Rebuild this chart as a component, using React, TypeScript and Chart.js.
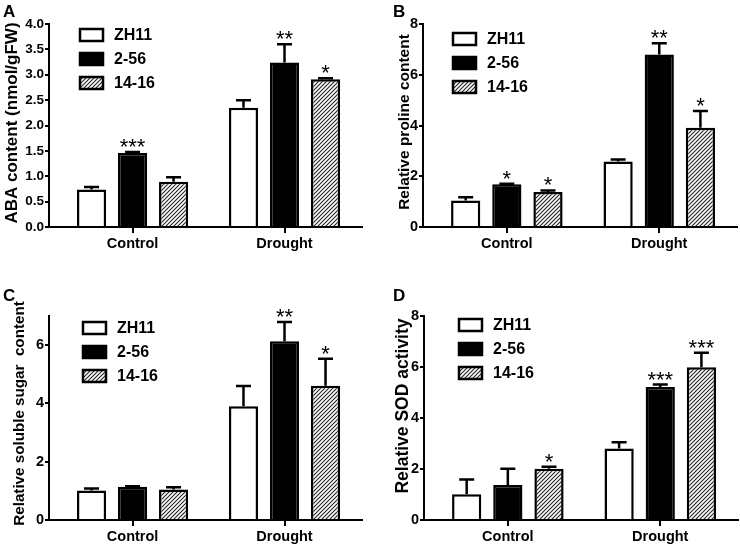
import React, { useEffect, useRef } from 'react';
import { Chart, registerables } from 'chart.js';

Chart.register(...registerables);

const FONT = '"Liberation Sans", Arial, Helvetica, sans-serif';

const categories = ['Control', 'Drought'];
const seriesNames = ['ZH11', '2-56', '14-16'];

// Panel A – ABA content (nmol/gFW)
const abaZH11 = [0.74, 2.35];
const aba256 = [1.46, 3.24];
const aba1416 = [0.89, 2.91];
const abaErrZH11 = [0.05, 0.15];
const abaErr256 = [0.02, 0.36];
const abaErr1416 = [0.09, 0.02];
const abaSigZH11 = ['', ''];
const abaSig256 = ['***', '**'];
const abaSig1416 = ['', '*'];

// Panel B – relative proline content
const proZH11 = [1.04, 2.58];
const pro256 = [1.68, 6.8];
const pro1416 = [1.38, 3.91];
const proErrZH11 = [0.13, 0.08];
const proErr256 = [0.02, 0.44];
const proErr1416 = [0.06, 0.66];
const proSigZH11 = ['', ''];
const proSig256 = ['*', '**'];
const proSig1416 = ['*', '*'];

// Panel C – relative soluble sugar content
const sugZH11 = [1.01, 3.9];
const sug256 = [1.14, 6.13];
const sug1416 = [1.05, 4.61];
const sugErrZH11 = [0.07, 0.7];
const sugErr256 = [0.02, 0.66];
const sugErr1416 = [0.07, 0.92];
const sugSigZH11 = ['', ''];
const sugSig256 = ['', '**'];
const sugSig1416 = ['', '*'];

// Panel D – relative SOD activity
const sodZH11 = [1.01, 2.8];
const sod256 = [1.37, 5.22];
const sod1416 = [2.01, 5.99];
const sodErrZH11 = [0.58, 0.25];
const sodErr256 = [0.64, 0.09];
const sodErr1416 = [0.08, 0.57];
const sodSigZH11 = ['', ''];
const sodSig256 = ['', '***'];
const sodSig1416 = ['*', '***'];

const W = 370;
const H = 273;

type PanelDef = {
  letter: string;
  title: string;
  values: number[][];
  errors: number[][];
  sigs: string[][];
  yMax: number;
  yStep: number;
  decimals: number;
  pos: { left: number; top: number };
  area: { left: number; top: number; right: number; bottom: number };
  titleSize: number;
  titleCenter: { x: number; y: number };
  tickSize: number;
  legend: { x: number; y: number };
  letterPos: { x: number; y: number };
};

const panels: PanelDef[] = [
  {
    letter: 'A',
    title: 'ABA content (nmol/gFW)',
    values: [abaZH11, aba256, aba1416],
    errors: [abaErrZH11, abaErr256, abaErr1416],
    sigs: [abaSigZH11, abaSig256, abaSig1416],
    yMax: 4,
    yStep: 0.5,
    decimals: 1,
    pos: { left: 0, top: 0 },
    area: { left: 49, top: 24, right: 362, bottom: 227 },
    titleSize: 17,
    titleCenter: { x: 12, y: 123 },
    tickSize: 13.5,
    legend: { x: 80, y: 35 },
    letterPos: { x: 3, y: 4 },
  },
  {
    letter: 'B',
    title: 'Relative proline content',
    values: [proZH11, pro256, pro1416],
    errors: [proErrZH11, proErr256, proErr1416],
    sigs: [proSigZH11, proSig256, proSig1416],
    yMax: 8,
    yStep: 2,
    decimals: 0,
    pos: { left: 370, top: 0 },
    area: { left: 53, top: 24, right: 367, bottom: 227 },
    titleSize: 15.5,
    titleCenter: { x: 34.5, y: 122 },
    tickSize: 14.5,
    legend: { x: 83, y: 39 },
    letterPos: { x: 23, y: 4 },
  },
  {
    letter: 'C',
    title: 'Relative soluble sugar  content',
    values: [sugZH11, sug256, sug1416],
    errors: [sugErrZH11, sugErr256, sugErr1416],
    sigs: [sugSigZH11, sugSig256, sugSig1416],
    yMax: 7,
    yStep: 2,
    decimals: 0,
    pos: { left: 0, top: 273 },
    area: { left: 49, top: 43, right: 362, bottom: 247 },
    titleSize: 15.2,
    titleCenter: { x: 20, y: 140.5 },
    tickSize: 14.5,
    legend: { x: 83, y: 55 },
    letterPos: { x: 3, y: 15 },
  },
  {
    letter: 'D',
    title: 'Relative SOD activity',
    values: [sodZH11, sod256, sod1416],
    errors: [sodErrZH11, sodErr256, sodErr1416],
    sigs: [sodSigZH11, sodSig256, sodSig1416],
    yMax: 8,
    yStep: 2,
    decimals: 0,
    pos: { left: 370, top: 273 },
    area: { left: 54, top: 43, right: 368, bottom: 247 },
    titleSize: 17.5,
    titleCenter: { x: 33.5, y: 133 },
    tickSize: 14.5,
    legend: { x: 89, y: 52 },
    letterPos: { x: 23, y: 15 },
  },
];

const XMIN = -0.55;
const XMAX = 1.51;

function makeHatch(ctx: CanvasRenderingContext2D) {
  const s = 4;
  const tile = document.createElement('canvas');
  tile.width = s;
  tile.height = s;
  const g = tile.getContext('2d')!;
  g.fillStyle = '#ffffff';
  g.fillRect(0, 0, s, s);
  g.strokeStyle = '#222222';
  g.lineWidth = 1.1;
  g.beginPath();
  g.moveTo(-1, s + 1);
  g.lineTo(s + 1, -1);
  g.moveTo(-1, 1);
  g.lineTo(1, -1);
  g.moveTo(s - 1, s + 1);
  g.lineTo(s + 1, s - 1);
  g.stroke();
  return ctx.createPattern(tile, 'repeat')!;
}

function Panel({ def }: { def: PanelDef }) {
  const ref = useRef<HTMLCanvasElement>(null);

  useEffect(() => {
    const canvas = ref.current!;
    const ctx0 = canvas.getContext('2d')!;
    const hatch = makeHatch(ctx0);
    const fills: (string | CanvasPattern)[] = ['#ffffff', '#000000', hatch];
    const area = def.area;

    const extras = {
      id: 'extras',
      afterDatasetsDraw(chart: any) {
        const ctx: CanvasRenderingContext2D = chart.ctx;
        const yScale = chart.scales.y;
        ctx.save();
        chart.data.datasets.forEach((ds: any, si: number) => {
          const meta = chart.getDatasetMeta(si);
          meta.data.forEach((el: any, ci: number) => {
            const v = def.values[si][ci];
            const e = def.errors[si][ci];
            const x = el.x;
            const yv = yScale.getPixelForValue(v);
            const yt = yScale.getPixelForValue(v + e);
            if (e > 0) {
              ctx.strokeStyle = '#000';
              ctx.lineWidth = 2.5;
              ctx.beginPath();
              ctx.moveTo(x, yv);
              ctx.lineTo(x, yt);
              ctx.moveTo(x - 7.5, yt);
              ctx.lineTo(x + 7.5, yt);
              ctx.stroke();
            }
            const sig = def.sigs[si][ci];
            if (sig) {
              ctx.fillStyle = '#000';
              ctx.font = `22px ${FONT}`;
              ctx.textAlign = 'center';
              ctx.textBaseline = 'alphabetic';
              ctx.fillText(sig, x, Math.min(yt, yv) + 2);
            }
          });
        });
        ctx.restore();
      },
      afterDraw(chart: any) {
        const ctx: CanvasRenderingContext2D = chart.ctx;
        ctx.save();
        // legend
        seriesNames.forEach((name, si) => {
          const cy = def.legend.y + si * 24;
          ctx.fillStyle = fills[si] as any;
          ctx.fillRect(def.legend.x, cy - 6, 23, 12);
          ctx.strokeStyle = '#000';
          ctx.lineWidth = 2.5;
          ctx.strokeRect(def.legend.x, cy - 6, 23, 12);
          ctx.fillStyle = '#000';
          ctx.font = `bold 16px ${FONT}`;
          ctx.textAlign = 'left';
          ctx.textBaseline = 'middle';
          ctx.fillText(name, def.legend.x + 34, cy + 1);
        });
        // y-axis title
        ctx.save();
        ctx.translate(def.titleCenter.x, def.titleCenter.y);
        ctx.rotate(-Math.PI / 2);
        ctx.font = `bold ${def.titleSize}px ${FONT}`;
        ctx.textAlign = 'center';
        ctx.textBaseline = 'middle';
        ctx.fillStyle = '#000';
        ctx.fillText(def.title, 0, 0);
        ctx.restore();
        // panel letter
        ctx.fillStyle = '#000';
        ctx.font = `bold 17px ${FONT}`;
        ctx.textAlign = 'left';
        ctx.textBaseline = 'top';
        ctx.fillText(def.letter, def.letterPos.x, def.letterPos.y);
        ctx.restore();
      },
    };

    const chart = new Chart(canvas, {
      type: 'bar',
      data: {
        datasets: seriesNames.map((name, si) => ({
          label: name,
          data: categories.map((_, ci) => ({ x: ci, y: def.values[si][ci] })),
          backgroundColor: fills[si] as any,
          borderColor: '#000000',
          borderWidth: 2.5,
          categoryPercentage: 0.81,
          barPercentage: 0.71,
        })),
      },
      options: {
        responsive: false,
        animation: false,
        events: [],
        layout: {
          padding: { left: 0, top: area.top, right: W - area.right, bottom: 0 },
        },
        plugins: {
          legend: { display: false },
          tooltip: { enabled: false },
          title: { display: false },
        },
        scales: {
          x: {
            type: 'linear',
            min: XMIN,
            max: XMAX,
            offset: false,
            afterBuildTicks: (s: any) => {
              s.ticks = categories.map((_, i) => ({ value: i }));
            },
            afterFit: (s: any) => {
              s.height = H - area.bottom;
            },
            grid: {
              display: true,
              drawOnChartArea: false,
              drawTicks: true,
              tickLength: 6,
              color: '#000',
              lineWidth: 2,
              offset: false,
            },
            border: { display: true, color: '#000', width: 2 },
            ticks: {
              callback: (v: any) => categories[Math.round(Number(v))] ?? '',
              font: { family: FONT, size: 14.5, weight: 'bold' },
              color: '#000',
              padding: 2,
              maxRotation: 0,
              autoSkip: false,
            },
          },
          y: {
            type: 'linear',
            min: 0,
            max: def.yMax,
            afterFit: (s: any) => {
              s.width = area.left;
            },
            grid: {
              display: true,
              drawOnChartArea: false,
              drawTicks: true,
              tickLength: 4,
              color: '#000',
              lineWidth: 2,
            },
            border: { display: true, color: '#000', width: 2 },
            ticks: {
              stepSize: def.yStep,
              includeBounds: false,
              callback: (v: any) => Number(v).toFixed(def.decimals),
              font: { family: FONT, size: def.tickSize, weight: 'bold' },
              color: '#000',
              padding: 1,
            },
            title: { display: false },
          },
        },
      } as any,
      plugins: [extras],
    });

    return () => chart.destroy();
  }, [def]);

  return (
    <div style={{ position: 'absolute', left: def.pos.left, top: def.pos.top, width: W, height: H }}>
      <canvas ref={ref} width={W} height={H} style={{ width: W, height: H, display: 'block' }} />
    </div>
  );
}

export default function App() {
  return (
    <div style={{ position: 'absolute', left: 0, top: 0, width: 740, height: 546, background: '#fff' }}>
      {panels.map((p) => (
        <Panel key={p.letter} def={p} />
      ))}
    </div>
  );
}
